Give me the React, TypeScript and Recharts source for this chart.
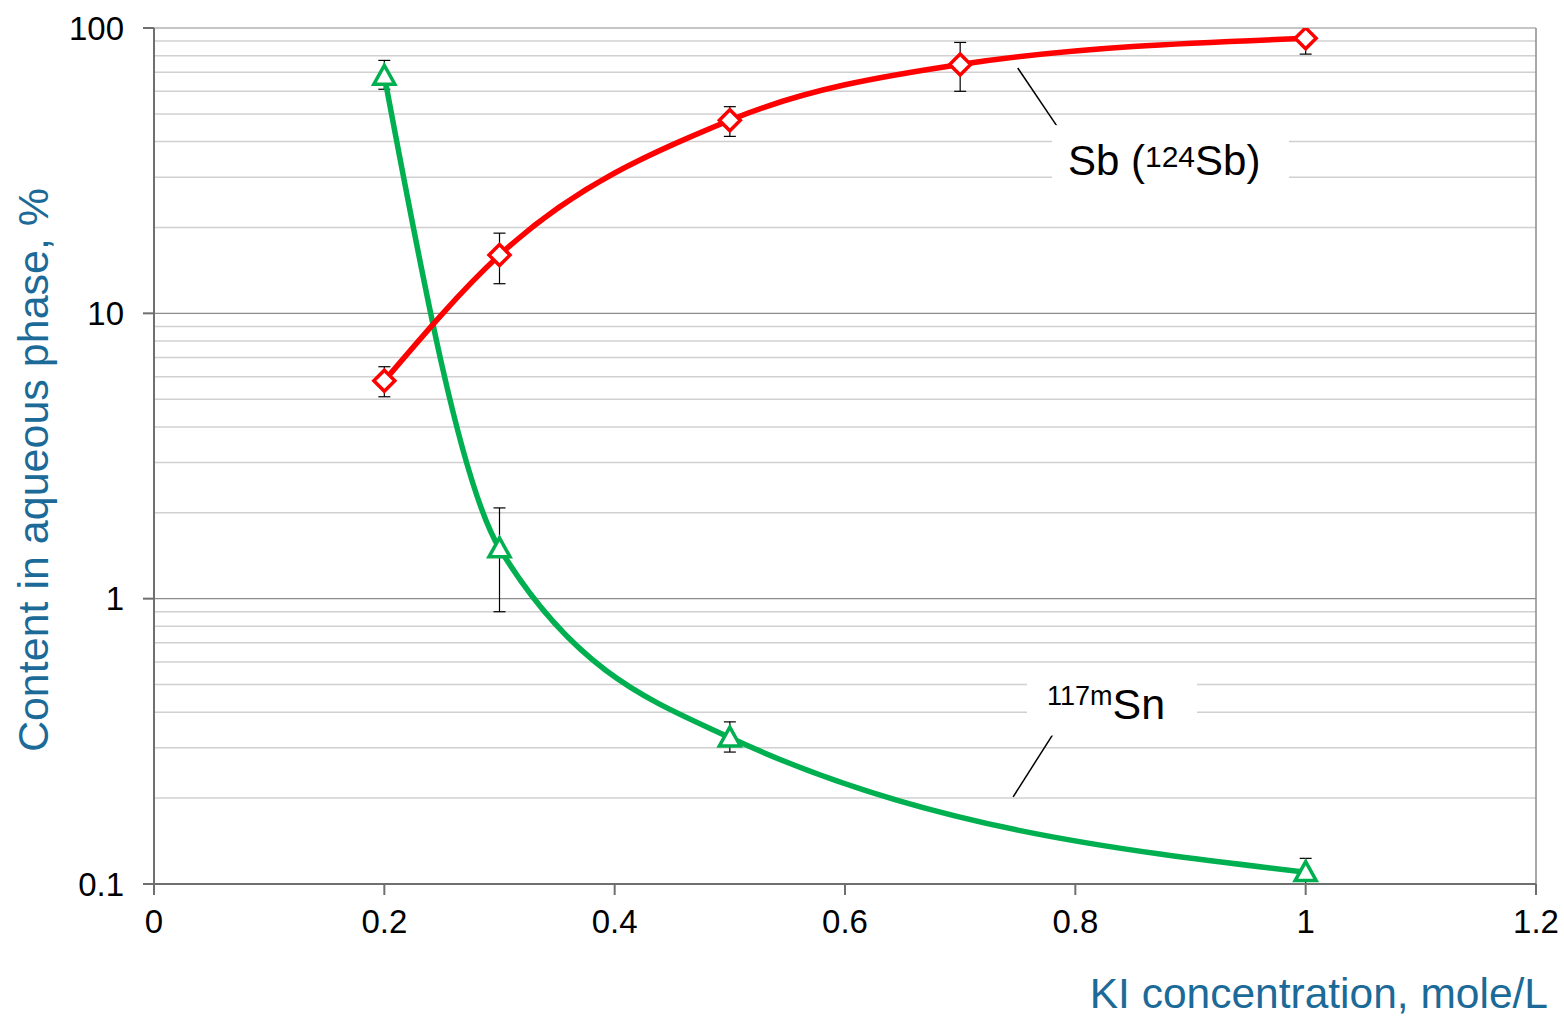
import React from "react";
import {
  LineChart,
  Line,
  XAxis,
  YAxis,
  CartesianGrid,
  ErrorBar,
  ReferenceLine,
  ReferenceDot,
  Label,
} from "recharts";

const FONT = "'Liberation Sans', Arial, sans-serif";
const TITLE_COLOR = "#1b6a98";

const xTicks = [0, 0.2, 0.4, 0.6, 0.8, 1, 1.2];
const yTicks = [0.1, 1, 10, 100];
const minorTicks = [
  0.2, 0.3, 0.4, 0.5, 0.6, 0.7, 0.8, 0.9,
  2, 3, 4, 5, 6, 7, 8, 9,
  20, 30, 40, 50, 60, 70, 80, 90,
];

// Sb (124Sb): KI concentration, value, error bar low/high
const sbX = [0.2, 0.3, 0.5, 0.7, 1.0];
const sbY = [5.8, 16, 47.5, 74.5, 92];
const sbLow = [5.1, 12.7, 41.7, 60, 81];
const sbHigh = [6.5, 19.1, 53, 89, 96];

// 117mSn
const snX = [0.2, 0.3, 0.5, 1.0];
const snY = [68, 1.5, 0.326, 0.11];
const snLow = [61, 0.9, 0.29, 0.1];
const snHigh = [77, 2.08, 0.37, 0.123];

const sbData = sbX.map((x, i) => ({
  x,
  y: sbY[i],
  err: [sbY[i] - sbLow[i], sbHigh[i] - sbY[i]],
}));
const snData = snX.map((x, i) => ({
  x,
  y: snY[i],
  err: [snY[i] - snLow[i], snHigh[i] - snY[i]],
}));

const Diamond = (props: any) => {
  const { cx, cy } = props;
  if (cx == null || cy == null) return null;
  const r = 10.5;
  return (
    <path
      d={`M${cx},${cy - r} L${cx + r},${cy} L${cx},${cy + r} L${cx - r},${cy} Z`}
      fill="#fff"
      stroke="#ff0000"
      strokeWidth={3.5}
    />
  );
};

const Triangle = (props: any) => {
  const { cx, cy } = props;
  if (cx == null || cy == null) return null;
  const r = 10.5;
  return (
    <path
      d={`M${cx},${cy - r} L${cx + r},${cy + r * 0.8} L${cx - r},${cy + r * 0.8} Z`}
      fill="#fff"
      stroke="#00b050"
      strokeWidth={3.5}
    />
  );
};

const SbLabel = (props: any) => {
  const { cx, cy } = props;
  return (
    <g>
      <rect x={cx - 16} y={cy - 50} width={237} height={70} fill="#fff" />
      <text x={cx} y={cy} fontFamily={FONT} fontSize={42} fill="#000">
        Sb (
        <tspan fontSize={30} dy={-8}>124</tspan>
        <tspan dy={8}>Sb)</tspan>
      </text>
    </g>
  );
};

const SnLabel = (props: any) => {
  const { cx, cy } = props;
  return (
    <g>
      <rect x={cx - 20} y={cy - 47} width={170} height={64} fill="#fff" />
      <text x={cx} y={cy} fontFamily={FONT} fontSize={43} fill="#000">
        <tspan fontSize={27} dy={-14}>117m</tspan>
        <tspan dy={14}>Sn</tspan>
      </text>
    </g>
  );
};

export default function App() {
  return (
    <div style={{ position: "absolute", left: 0, top: 0, background: "#fff" }}>
      <LineChart
        width={1564}
        height={1016}
        margin={{ top: 28, right: 28, left: 0, bottom: 0 }}
      >
        <CartesianGrid vertical={false} stroke="#8c8c8c" strokeWidth={1.2} />
        {minorTicks.map((v) => (
          <ReferenceLine key={v} y={v} stroke="#d0d0d0" strokeWidth={1.5} />
        ))}
        <ReferenceLine x={1.2} stroke="#8c8c8c" strokeWidth={1.5} />
        <XAxis
          dataKey="x"
          type="number"
          domain={[0, 1.2]}
          ticks={xTicks}
          allowDuplicatedCategory={false}
          height={132}
          stroke="#6f6f6f"
          strokeWidth={2}
          tickSize={11}
          tickMargin={15}
          tick={{ fontSize: 33, fill: "#000", fontFamily: FONT }}
          tickFormatter={(v: number) => String(v)}
        >
          <Label
            content={(p: any) => {
              const vb = p.viewBox;
              return (
                <text
                  x={vb.x + vb.width + 12}
                  y={vb.y + 124}
                  textAnchor="end"
                  fontFamily={FONT}
                  fontSize={42.5}
                  fill={TITLE_COLOR}
                >
                  KI concentration, mole/L
                </text>
              );
            }}
          />
        </XAxis>
        <YAxis
          type="number"
          scale="log"
          domain={[0.1, 100]}
          ticks={yTicks}
          allowDataOverflow
          width={154}
          stroke="#6f6f6f"
          strokeWidth={2}
          tickSize={11}
          tickMargin={19}
          tick={{ fontSize: 33, fill: "#000", fontFamily: FONT }}
          tickFormatter={(v: number) => String(v)}
        >
          <Label
            content={(p: any) => {
              const vb = p.viewBox;
              const cx = vb.x + 33;
              const cy = vb.y + vb.height / 2 + 14;
              return (
                <text
                  x={cx}
                  y={cy}
                  transform={`rotate(-90 ${cx} ${cy})`}
                  textAnchor="middle"
                  dominantBaseline="central"
                  fontFamily={FONT}
                  fontSize={43}
                  fill={TITLE_COLOR}
                >
                  Content in aqueous phase, %
                </text>
              );
            }}
          />
        </YAxis>
        <ReferenceLine
          segment={[
            { x: 0.75, y: 72.4 },
            { x: 0.788, y: 42.9 },
          ]}
          stroke="#000"
          strokeWidth={1.5}
        />
        <ReferenceLine
          segment={[
            { x: 0.783, y: 0.347 },
            { x: 0.746, y: 0.202 },
          ]}
          stroke="#000"
          strokeWidth={1.5}
        />
        <ReferenceDot x={0.7936} y={30.5} r={0} shape={SbLabel} />
        <ReferenceDot x={0.7754} y={0.38} r={0} shape={SnLabel} />
        <Line
          data={snData}
          dataKey="y"
          type="monotone"
          stroke="#00b050"
          strokeWidth={5.5}
          dot={<Triangle />}
          activeDot={false}
          isAnimationActive={false}
        >
          <ErrorBar dataKey="err" direction="y" width={6} stroke="#000" strokeWidth={1.2} />
        </Line>
        <Line
          data={sbData}
          dataKey="y"
          type="monotone"
          stroke="#ff0000"
          strokeWidth={5.5}
          dot={<Diamond />}
          activeDot={false}
          isAnimationActive={false}
        >
          <ErrorBar dataKey="err" direction="y" width={6} stroke="#000" strokeWidth={1.2} />
        </Line>
      </LineChart>
    </div>
  );
}
